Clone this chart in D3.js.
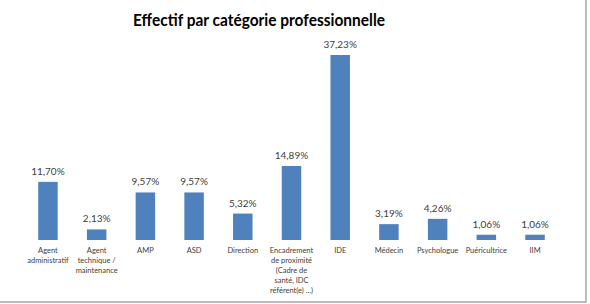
<!DOCTYPE html>
<html>
<head>
<meta charset="utf-8">
<script src="https://cdn.jsdelivr.net/npm/d3@7"></script>
<style>
  body { margin: 0; background: #fff; }
  svg { display: block; font-family: Lato, "Open Sans", sans-serif; }
</style>
</head>
<body>
<div id="chart"></div>
<script>
// Data
var categories = ["Agent administratif", "Agent technique / maintenance", "AMP", "ASD", "Direction",
  "Encadrement de proximité (Cadre de santé, IDC référent(e) ...)", "IDE", "Médecin", "Psychologue", "Puéricultrice", "IIM"];
var labelLines = [
  ["Agent", "administratif"],
  ["Agent", "technique /", "maintenance"],
  ["AMP"],
  ["ASD"],
  ["Direction"],
  ["Encadrement", "de proximité", "(Cadre de", "santé, IDC", "référent(e) ...)"],
  ["IDE"],
  ["Médecin"],
  ["Psychologue"],
  ["Puéricultrice"],
  ["IIM"]
];
var values = [11.70, 2.13, 9.57, 9.57, 5.32, 14.89, 37.23, 3.19, 4.26, 1.06, 1.06];
var valueLabels = ["11,70%", "2,13%", "9,57%", "9,57%", "5,32%", "14,89%", "37,23%", "3,19%", "4,26%", "1,06%", "1,06%"];

var W = 590, H = 304;
var svg = d3.select("#chart").append("svg")
    .attr("width", W)
    .attr("height", H);

// chart border (only right and bottom visible)
svg.append("rect")
    .attr("x", -2).attr("y", -2)
    .attr("width", 588).attr("height", 304)
    .attr("fill", "none")
    .attr("stroke", "#a6a6a6")
    .attr("stroke-width", 1.5);

svg.append("text")
    .attr("x", 133).attr("y", 26)
    .attr("font-size", 17.5)
    .attr("font-weight", "bold")
    .attr("fill", "#000")
    .attr("textLength", 252)
    .attr("lengthAdjust", "spacingAndGlyphs")
    .text("Effectif par catégorie professionnelle");

var baseline = 240;
var x = d3.scaleBand()
    .domain(categories)
    .range([9, 574])
    .padding(0.6);
var y = d3.scaleLinear()
    .domain([0, 37.23])
    .range([baseline, 55]);

svg.selectAll(".bar")
    .data(values)
  .enter().append("rect")
    .attr("class", "bar")
    .attr("x", function(d, i) { return x(categories[i]); })
    .attr("width", x.bandwidth())
    .attr("y", function(d) { return y(d); })
    .attr("height", function(d) { return baseline - y(d); })
    .attr("fill", "#4f81bd");

svg.selectAll(".val")
    .data(values)
  .enter().append("text")
    .attr("class", "val")
    .attr("x", function(d, i) { return x(categories[i]) + x.bandwidth() / 2; })
    .attr("y", function(d) { return y(d) - 7; })
    .attr("text-anchor", "middle")
    .attr("font-size", 10)
    .attr("fill", "#404040")
    .text(function(d, i) { return valueLabels[i]; });

var lab = svg.selectAll(".lab")
    .data(categories)
  .enter().append("text")
    .attr("class", "lab")
    .attr("x", function(d) { return x(d) + x.bandwidth() / 2; })
    .attr("y", 253)
    .attr("text-anchor", "middle")
    .attr("font-size", 7.5)
    .attr("fill", "#404040");

lab.selectAll("tspan")
    .data(function(d, i) { return labelLines[i]; })
  .enter().append("tspan")
    .attr("x", function() { return d3.select(this.parentNode).attr("x"); })
    .attr("dy", function(d, j) { return j === 0 ? 0 : 10; })
    .text(function(d) { return d; });
</script>
</body>
</html>
